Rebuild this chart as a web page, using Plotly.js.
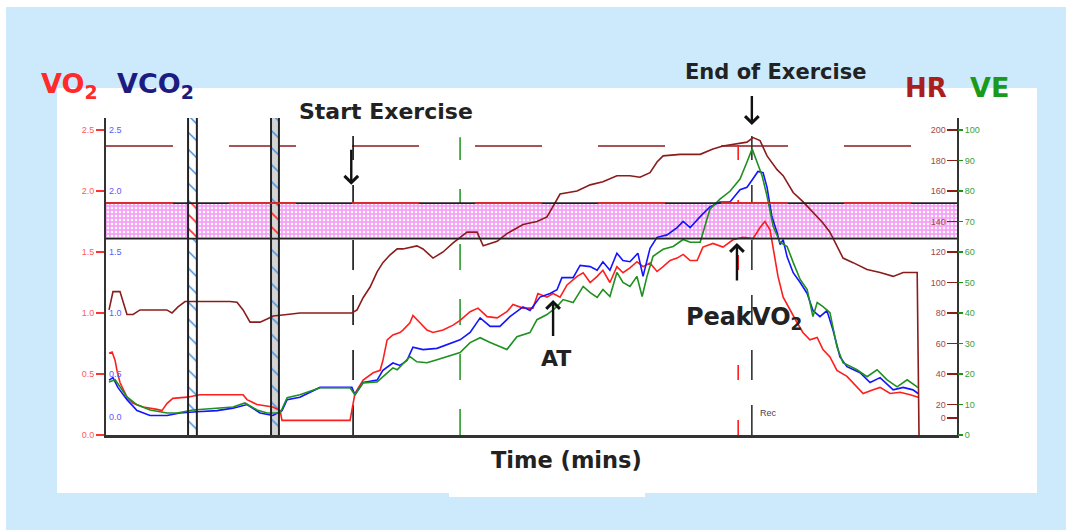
<!DOCTYPE html>
<html>
<head>
<meta charset="utf-8">
<script src="https://cdn.plot.ly/plotly-3.0.1.min.js"></script>
<style>html,body{margin:0;padding:0;background:#fff;}#chart{width:1066px;height:530px;}</style>
</head>
<body>
<div id="chart"></div>
<script>
// ---------- data (time in minutes) ----------
const hrTime = [0.10,0.23,0.46,0.56,0.69,0.89,1.12,1.55,2.0,2.17,
  2.37,2.6,3.09,4.08,4.31,4.51,4.74,5.07,5.3,5.5,
  5.96,6.38,6.94,8.09,8.26,8.46,8.69,8.92,9.11,9.34,
  9.58,9.77,10.23,10.43,10.76,11.09,11.42,11.88,12.21,12.41,
  12.87,13.19,13.72,14.18,14.51,14.71,14.94,15.5,15.93,16.35,
  16.81,17.24,17.57,17.9,18.13,18.33,18.89,19.55,19.97,20.3,
  20.76,21.09,21.29,21.52,21.75,22.08,22.28,22.61,22.93,23.26,
  23.59,23.82,24.05,24.25,24.58,25.04,25.47,25.9,26.23,26.69,
  26.75];
const hrValues = [82,94,94,87,79,79,82,82,82,80,
  84,87.5,87.5,87.5,87,82,74,74,76,78,
  79,80,80,80,82,90,97,107,113,118,
  122,122,124,122,116,120,126,133,133,124,
  127,132,138,140,143,150,158,160,164,166,
  170,170,169,172,179,183,184,184,187.5,189.5,
  191,192,195,193,183,174,170,159,153,146,
  139,133,124,116,113,108.5,106.5,104,106.5,106.5,
  0];

const vo2Time = [0.10,0.20,0.30,0.36,0.46,0.69,0.89,1.22,1.68,1.84,
  2.01,2.20,2.67,3.09,4.51,4.64,4.97,5.49,5.73,5.79,
  8.03,8.09,8.19,8.46,8.79,9.02,9.11,9.25,9.44,9.67,
  9.77,10.0,10.1,10.33,10.56,10.76,11.09,11.42,11.65,11.98,
  12.24,12.54,12.87,13.19,13.39,13.72,14.05,14.21,14.51,14.71,
  14.94,15.17,15.5,15.7,15.93,16.16,16.35,16.58,16.81,17.01,
  17.24,17.47,17.67,17.9,18.13,18.33,18.56,18.79,18.99,19.22,
  19.45,19.64,19.97,20.3,20.63,20.96,21.29,21.52,21.68,21.85,
  22.01,22.11,22.28,22.51,22.74,22.93,23.16,23.4,23.59,23.82,
  24.05,24.38,24.71,24.91,25.24,25.47,25.8,26.13,26.46,26.72];
const vo2Values = [0.67,0.68,0.61,0.53,0.43,0.31,0.26,0.23,0.21,0.20,
  0.26,0.30,0.31,0.33,0.33,0.29,0.25,0.23,0.20,0.12,
  0.12,0.20,0.34,0.45,0.51,0.53,0.61,0.78,0.82,0.84,
  0.86,0.92,0.98,0.92,0.86,0.84,0.86,0.90,0.94,1.01,
  1.04,0.97,0.96,1.01,1.07,1.04,1.04,1.16,1.13,1.16,
  1.13,1.23,1.30,1.33,1.25,1.30,1.35,1.25,1.38,1.33,
  1.37,1.42,1.38,1.41,1.34,1.38,1.43,1.45,1.48,1.43,
  1.43,1.54,1.57,1.54,1.60,1.62,1.61,1.70,1.75,1.68,
  1.46,1.30,1.13,1.02,0.92,0.84,0.78,0.80,0.70,0.64,
  0.53,0.48,0.39,0.34,0.37,0.39,0.34,0.35,0.33,0.31];

const vco2Time = [0.10,0.23,0.39,0.69,1.02,1.45,2.01,2.43,2.99,3.65,
  4.18,4.64,5.07,5.49,5.79,5.96,6.38,7.04,8.09,8.19,
  8.46,8.92,9.11,9.44,9.67,9.9,10.1,10.43,10.89,11.32,
  11.65,11.98,12.31,12.64,12.96,13.29,13.72,13.95,14.28,14.61,
  14.84,15.0,15.37,15.6,15.93,16.16,16.35,16.58,16.81,17.01,
  17.24,17.5,17.67,17.9,18.13,18.46,18.79,18.99,19.22,19.55,
  19.87,20.2,20.53,20.86,21.09,21.26,21.45,21.62,21.75,21.91,
  22.08,22.18,22.28,22.41,22.61,22.84,23.07,23.26,23.49,23.72,
  23.92,24.15,24.38,24.81,25.14,25.47,25.9,26.23,26.55,26.72];
const vco2Values = [0.45,0.47,0.39,0.29,0.20,0.16,0.16,0.18,0.19,0.20,
  0.22,0.25,0.18,0.16,0.20,0.29,0.31,0.39,0.39,0.33,
  0.43,0.45,0.53,0.59,0.57,0.61,0.72,0.70,0.71,0.75,
  0.78,0.84,0.96,0.89,0.89,0.97,1.05,1.02,1.13,1.16,
  1.19,1.29,1.29,1.39,1.38,1.35,1.42,1.35,1.49,1.43,
  1.42,1.49,1.30,1.53,1.62,1.64,1.70,1.75,1.70,1.79,
  1.87,1.91,1.91,2.01,2.03,2.09,2.16,2.15,2.03,1.79,
  1.66,1.56,1.60,1.46,1.33,1.25,1.16,1.02,0.97,1.02,
  0.86,0.64,0.56,0.51,0.43,0.47,0.37,0.39,0.37,0.34];

const veTime = [0.10,0.30,0.46,0.69,1.02,1.45,2.01,2.34,2.86,3.65,
  4.18,4.57,4.97,5.3,5.73,5.96,6.38,7.04,8.03,8.19,
  8.46,8.92,9.11,9.44,9.58,10.0,10.23,10.56,10.89,11.22,
  11.65,11.98,12.31,12.64,12.96,13.19,13.52,13.95,14.18,14.51,
  14.84,15.04,15.37,15.7,15.93,16.16,16.35,16.58,16.81,17.01,
  17.24,17.47,17.64,17.8,18.0,18.33,18.66,18.99,19.22,19.55,
  19.87,20.2,20.53,20.86,21.09,21.26,21.42,21.59,21.75,21.95,
  22.18,22.41,22.61,22.84,23.07,23.26,23.4,23.59,23.82,24.05,
  24.25,24.71,25.04,25.37,25.7,26.03,26.36,26.72];
const veValues = [17.4,18.1,15.8,12.5,9.9,8.2,7.2,7.2,8.2,8.9,
  9.2,10.5,8.2,7.2,7.2,12.2,13.2,15.5,15.5,13.2,
  17.1,17.4,19.1,22.0,21.4,25.7,24.0,23.7,24.7,25.7,
  27.0,30.3,31.9,30.3,28.9,28.0,32.2,33.6,37.8,39.5,
  42.1,44.4,43.4,48.7,46.7,45.1,47.7,45.4,53.3,50.0,
  48.7,52.0,45.4,52.0,58.6,60.9,61.8,64.1,63.2,63.2,
  74.0,77.3,79.9,83.9,89.5,93.8,89.5,84.9,78.3,68.4,
  63.2,61.8,56.6,51.0,47.7,38.8,43.4,42.1,40.1,28.9,
  23.7,21.4,19.1,21.4,18.1,15.8,18.1,15.5];

// reference levels / events
const vo2BandLow = 1.61, vo2BandHigh = 1.90;   // target VO2 band
const hrPredictedMax = 189.5;                  // predicted max HR
const breakStarts = [2.70, 5.43];
const breakEnds   = [2.99, 5.69];
const startExerciseTime = 8.13;
const atTime = 14.71;
const greenMarkerTime = 11.65;
const peakVO2Time = 20.8;
const endExerciseTime = 21.25;

// tick labels
const vo2TickVals = [0,0.5,1,1.5,2,2.5];
const vo2TickText = ['0.0','0.5','1.0','1.5','2.0','2.5'];
const vco2TickVals = [0.15,0.5,1,1.5,2,2.5];
const vco2TickText = ['0.0','0.5','1.0','1.5','2.0','2.5'];
const hrTickVals = [11,20,40,60,80,100,120,140,160,180,200];
const hrTickText = ['0','20','40','60','80','100','120','140','160','180','200'];
const veTickVals = [0,10,20,30,40,50,60,70,80,90,100];
const veTickText = ['0','10','20','30','40','50','60','70','80','90','100'];

const Y_TOP = 2.598;
const C_RED='#ff1e1e', C_BLUE='#1414ff', C_GREEN='#1f8f1f', C_HR='#8b1c1c';
const breakBg = ['#ffffff', '#d4d4d4'];

const box = (x0,x1,y0,y1) => ({x:[x0,x1,x1,x0,x0], y:[y0,y0,y1,y1,y0]});
const traces = [];
// pink band
traces.push(Object.assign({type:'scatter', mode:'lines', fill:'toself', line:{width:0},
  fillcolor:'#f4a6f4',
  fillpattern:{shape:'.', bgcolor:'#f4a2f4', fgcolor:'#ffffff', size:4, solidity:0.3},
  hoverinfo:'skip', yaxis:'y'}, box(0,28,vo2BandLow,vo2BandHigh)));
// break columns (hatched)
breakStarts.forEach((s,i)=>{
  traces.push(Object.assign({type:'scatter', mode:'lines', fill:'toself', line:{width:0},
    fillcolor:breakBg[i],
    fillpattern:{shape:'\\', fgcolor:'#3b8fe3', bgcolor:breakBg[i], size:12, solidity:0.12},
    hoverinfo:'skip', yaxis:'y'}, box(s, breakEnds[i], 0, Y_TOP)));
  traces.push(Object.assign({type:'scatter', mode:'lines', fill:'toself', line:{width:0},
    fillcolor:breakBg[i],
    fillpattern:{shape:'\\', fgcolor:'#ff3030', bgcolor:breakBg[i], size:10, solidity:0.18},
    hoverinfo:'skip', yaxis:'y'}, box(s, breakEnds[i], vo2BandLow, vo2BandHigh)));
});

traces.push({type:'scatter', mode:'lines', x:hrTime, y:hrValues, yaxis:'y3', name:'HR',
  line:{color:C_HR, width:1.6}});
traces.push({type:'scatter', mode:'lines', x:veTime, y:veValues, yaxis:'y4', name:'VE',
  line:{color:C_GREEN, width:1.6}});
traces.push({type:'scatter', mode:'lines', x:vco2Time, y:vco2Values, yaxis:'y2', name:'VCO2',
  line:{color:C_BLUE, width:1.6}});
traces.push({type:'scatter', mode:'lines', x:vo2Time, y:vo2Values, yaxis:'y', name:'VO2',
  line:{color:C_RED, width:1.6}});

// plot area: x 106..957, y 118..435
const PX = px => (px-106)/851, PY = py => (435-py)/317;

const shapes = [
  {type:'rect', xref:'paper', yref:'paper', x0:PX(6), x1:PX(1066), y0:PY(7), y1:PY(530), fillcolor:'#cdeafc', line:{width:0}, layer:'below'},
  {type:'rect', xref:'paper', yref:'paper', x0:PX(57), x1:PX(1037), y0:PY(88), y1:PY(493), fillcolor:'#ffffff', line:{width:0}, layer:'below'},
  {type:'rect', xref:'paper', yref:'paper', x0:PX(449), x1:PX(645), y0:PY(490), y1:PY(497), fillcolor:'#ffffff', line:{width:0}, layer:'below'},
];
// black double lines of break columns
breakStarts.concat(breakEnds).forEach(t=>{
  shapes.push({type:'line', xref:'x', yref:'paper', x0:t, x1:t, y0:0, y1:1, line:{color:'#222', width:2}, layer:'above'});
});
// band borders
shapes.push({type:'line', xref:'paper', yref:'y', x0:0, x1:1, y0:vo2BandLow, y1:vo2BandLow, line:{color:'#222', width:1.8}});
shapes.push({type:'line', xref:'paper', yref:'y', x0:0, x1:1, y0:vo2BandHigh, y1:vo2BandHigh, line:{color:'#222', width:1.8}});
shapes.push({type:'line', xref:'paper', yref:'y', x0:0, x1:1, y0:vo2BandHigh, y1:vo2BandHigh, line:{color:C_RED, width:1.8, dash:'67px,56px'}});
// predicted max HR
shapes.push({type:'line', xref:'paper', yref:'y3', x0:0, x1:1, y0:hrPredictedMax, y1:hrPredictedMax, line:{color:C_HR, width:1.6, dash:'67px,56px'}, layer:'below'});
// event lines
shapes.push({type:'line', xref:'x', yref:'y', x0:startExerciseTime, x1:startExerciseTime, y0:0, y1:2.45, line:{color:'#111', width:1.6, dash:'30px,25px'}, layer:'below'});
shapes.push({type:'line', xref:'x', yref:'y', x0:greenMarkerTime, x1:greenMarkerTime, y0:0, y1:2.44, line:{color:'#2a9a2a', width:1.6, dash:'26px,29px'}, layer:'below'});
shapes.push({type:'line', xref:'x', yref:'y', x0:peakVO2Time, x1:peakVO2Time, y0:0, y1:2.44, line:{color:C_RED, width:1.6, dash:'15px,40px'}, layer:'below'});
shapes.push({type:'line', xref:'x', yref:'y', x0:endExerciseTime, x1:endExerciseTime, y0:0, y1:2.45, line:{color:'#333', width:1.6, dash:'30px,25px'}, layer:'below'});

const F = 'Liberation Sans, Arial, sans-serif';
const FB = 'DejaVu Sans, Liberation Sans, sans-serif';
const arrow = (t, tip, tail) => ({x:t, y:tip, ax:t, ay:tail, xref:'x', yref:'y', axref:'x', ayref:'y',
  text:'', showarrow:true, arrowhead:4, arrowsize:1.1, arrowwidth:2.4, arrowcolor:'#111', standoff:0});
const label = (px, py, text, size, color, fam) => ({xref:'paper', yref:'paper', x:PX(px), y:PY(py),
  xanchor:'center', yanchor:'middle', text:text, showarrow:false, font:{family:fam||FB, size:size, color:color}});
const annotations = [
  label(69, 85, '<b>VO<sub>2</sub></b>', 27, '#ff2a2a'),
  label(155, 85, '<b>VCO<sub>2</sub></b>', 27, '#1c1c80'),
  label(926, 88, '<b>HR</b>', 26, '#aa1e1e'),
  label(989, 88, '<b>VE</b>', 27, '#1a9a1a'),
  label(386, 112, '<b>Start Exercise</b>', 22, '#222'),
  label(775, 72, '<b>End of Exercise</b>', 21, '#222'),
  label(556, 358, '<b>AT</b>', 22, '#222'),
  label(744, 318, '<b>PeakVO<sub>2</sub></b>', 24, '#222'),
  label(566, 460, '<b>Time (mins)</b>', 22.5, '#222'),
  label(768, 413, 'Rec', 9, '#445', F),
  arrow(startExerciseTime-0.06, 2.05, 2.35),
  arrow(endExerciseTime, 2.54, 2.79),
  arrow(atTime, 1.107, 0.80),
  arrow(peakVO2Time-0.04, 1.574, 1.254),
];

const tf = c => ({family:F, size:9, color:c});
const layout = {
  width:1066, height:530,
  margin:{l:106, r:109, t:118, b:95},
  paper_bgcolor:'#ffffff', plot_bgcolor:'rgba(0,0,0,0)',
  showlegend:false,
  xaxis:{range:[0,28], showline:true, linecolor:'#333', linewidth:2.5, showgrid:false, zeroline:false,
    tickvals:[0], ticktext:['0'], ticks:'', tickfont:tf('#5050ff')},
  yaxis:{range:[0,Y_TOP], showline:true, linecolor:'#333', linewidth:2, showgrid:false, zeroline:false,
    tickvals:vo2TickVals, ticktext:vo2TickText, ticks:'outside', ticklen:8, tickwidth:1.5, tickcolor:'#ff3030',
    tickfont:tf('#ff5a5a')},
  yaxis2:{overlaying:'y', side:'left', range:[0,Y_TOP], showline:false, showgrid:false, zeroline:false,
    tickvals:vco2TickVals, ticktext:vco2TickText, ticks:'', ticklabelposition:'inside', tickfont:tf('#5a5aff')},
  yaxis3:{overlaying:'y', side:'right', range:[0,Y_TOP*80], showline:true, linecolor:'#333', linewidth:2,
    showgrid:false, zeroline:false, tickvals:hrTickVals, ticktext:hrTickText, ticks:'inside', ticklen:10,
    tickwidth:1.5, tickcolor:C_HR, ticklabelposition:'inside', tickfont:tf('#a04848')},
  yaxis4:{overlaying:'y', side:'right', range:[0,Y_TOP*40], showline:false, showgrid:false, zeroline:false,
    tickvals:veTickVals, ticktext:veTickText, ticks:'outside', ticklen:5, tickwidth:1.5, tickcolor:C_GREEN,
    tickfont:tf('#3aa03a')},
  shapes:shapes, annotations:annotations,
};
Plotly.newPlot('chart', traces, layout, {displayModeBar:false, staticPlot:true});
</script>
</body>
</html>
